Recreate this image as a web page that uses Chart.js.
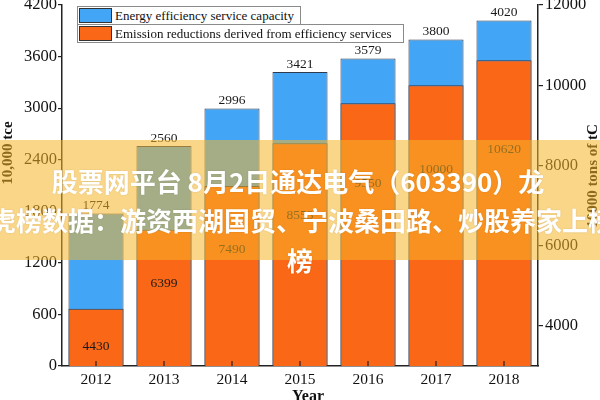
<!DOCTYPE html>
<html>
<head>
<meta charset="utf-8">
<script src="https://cdn.jsdelivr.net/npm/chart.js@4"></script>
<style>
  body { margin: 0; background: #fff; }
  #wrap { position: relative; width: 600px; height: 400px; overflow: hidden; }
  .legend-row { position: absolute; left: 77px; height: 17px; border: 1px solid #8a8a8a; background: #fff;
    font: 13px "Liberation Serif", serif; color: #111; }
  .legend-row .sw { position: absolute; left: 1px; top: 1px; width: 31px; height: 13px; border: 1px solid #333; }
  .legend-row .tx { position: absolute; left: 37px; top: 0; line-height: 17px; white-space: nowrap; }
  #band { position: absolute; left: 0; top: 140px; width: 600px; height: 120px; background: rgba(245, 180, 40, 0.55); }
  .cn { position: absolute; transform: translateX(-50%); white-space: nowrap; color: #fff;
    font: bold 26px "Noto Sans CJK SC", sans-serif; line-height: 40px; text-shadow: 0 0 2px rgba(0,0,0,0.12); }
</style>
</head>
<body>
<div id="wrap">
  <canvas id="chart" width="600" height="400"></canvas>
  <div class="legend-row" style="top:6px; width:222px;"><span class="sw" style="background:#42a5f5"></span><span class="tx">Energy efficiency service capacity</span></div>
  <div class="legend-row" style="top:24px; width:325px;"><span class="sw" style="background:#fa6716"></span><span class="tx">Emission reductions derived from efficiency services</span></div>
  <div id="band"></div>
  <div class="cn" style="left:298px; top:161px;">股票网平台 8月2日通达电气（603390）龙</div>
  <div class="cn" style="left:302px; top:200px;">虎榜数据：游资西湖国贸、宁波桑田路、炒股养家上榜</div>
  <div class="cn" style="left:300px; top:240px;">榜</div>
</div>
<script>
const years = ['2012', '2013', '2014', '2015', '2016', '2017', '2018'];
const capacity = [1774, 2560, 2996, 3421, 3579, 3800, 4020];
const reductions = [4430, 6399, 7490, 8553, 9550, 10000, 10620];
const leftTicks = [0, 600, 1200, 1800, 2400, 3000, 3600, 4200];
const rightTicks = [4000, 6000, 8000, 10000, 12000];

const serif = '"Liberation Serif", "Times New Roman", serif';

// value labels, inward x ticks and axis titles
const extras = {
  id: 'extras',
  afterDatasetsDraw(chart) {
    const ctx = chart.ctx;
    const area = chart.chartArea;
    const xs = chart.scales.x;
    const y1 = chart.scales.y1;
    ctx.save();
    ctx.font = '13.5px ' + serif;
    ctx.fillStyle = '#1a1a1a';
    ctx.textAlign = 'center';

    const blue = chart.getDatasetMeta(0).data;
    ctx.textBaseline = 'bottom';
    capacity.forEach((v, i) => ctx.fillText(String(v), blue[i].x, blue[i].y - 1));

    const orange = chart.getDatasetMeta(1).data;
    ctx.textBaseline = 'middle';
    reductions.forEach((v, i) => ctx.fillText(String(v), orange[i].x, y1.getPixelForValue(v * 0.79)));

    ctx.strokeStyle = '#222';
    ctx.lineWidth = 1.2;
    years.forEach((c, i) => {
      const px = xs.getPixelForValue(i);
      ctx.beginPath();
      ctx.moveTo(px, area.bottom);
      ctx.lineTo(px, area.bottom - 5);
      ctx.stroke();
    });

    ctx.fillStyle = '#111';
    ctx.font = 'bold 15px ' + serif;
    ctx.textBaseline = 'middle';
    ctx.save();
    ctx.translate(8, 153);
    ctx.rotate(-Math.PI / 2);
    ctx.fillText('10,000 tce', 0, 0);
    ctx.restore();
    ctx.save();
    ctx.translate(593, 176);
    ctx.rotate(-Math.PI / 2);
    ctx.fillText('10000 tons of tC', 0, 0);
    ctx.restore();

    ctx.font = 'bold 16px ' + serif;
    ctx.textBaseline = 'top';
    ctx.fillText('Year', 308, 389);
    ctx.restore();
  }
};

const tickFont = { family: serif, size: 16.5 };
const plain = v => String(v);

new Chart(document.getElementById('chart').getContext('2d'), {
  type: 'bar',
  data: {
    labels: years,
    datasets: [
      {
        label: 'Energy efficiency service capacity',
        data: capacity,
        yAxisID: 'y',
        backgroundColor: '#42a5f5',
        borderColor: '#303a4e',
        borderWidth: 1,
        grouped: false,
        order: 1,
        categoryPercentage: 1,
        barPercentage: 0.81
      },
      {
        label: 'Emission reductions derived from efficiency services',
        data: reductions,
        yAxisID: 'y1',
        backgroundColor: '#fa6716',
        borderColor: '#303a4e',
        borderWidth: 1,
        grouped: false,
        order: 0,
        base: 3000,
        categoryPercentage: 1,
        barPercentage: 0.81
      }
    ]
  },
  options: {
    responsive: false,
    animation: false,
    devicePixelRatio: 1,
    layout: { padding: { top: 5, left: 0, right: 0, bottom: 0 } },
    plugins: { legend: { display: false }, tooltip: { enabled: false } },
    scales: {
      x: {
        afterFit: s => { s.height = 34; s.paddingLeft = 0; s.paddingRight = 0; },
        grid: { display: true, drawOnChartArea: false, drawTicks: false },
        border: { color: '#222', width: 1.5 },
        ticks: { font: { family: serif, size: 15.5 }, color: '#111', padding: 5 }
      },
      y: {
        position: 'left',
        min: 0,
        max: 4200,
        afterBuildTicks: s => { s.ticks = leftTicks.map(v => ({ value: v })); },
        afterFit: s => { s.width = 62; s.paddingTop = 0; s.paddingBottom = 0; },
        grid: { drawOnChartArea: false, tickLength: 4, color: '#222', lineWidth: 1.2 },
        border: { color: '#222', width: 1.5 },
        ticks: { font: tickFont, color: '#111', padding: 1, callback: plain }
      },
      y1: {
        position: 'right',
        min: 3000,
        max: 12000,
        afterBuildTicks: s => { s.ticks = rightTicks.map(v => ({ value: v })); },
        afterFit: s => { s.width = 62; s.paddingTop = 0; s.paddingBottom = 0; },
        grid: { drawOnChartArea: false, tickLength: 5, color: '#222', lineWidth: 1.2 },
        border: { color: '#222', width: 1.5 },
        ticks: { font: tickFont, color: '#111', padding: 2, callback: plain }
      }
    }
  },
  plugins: [extras]
});
</script>
</body>
</html>
